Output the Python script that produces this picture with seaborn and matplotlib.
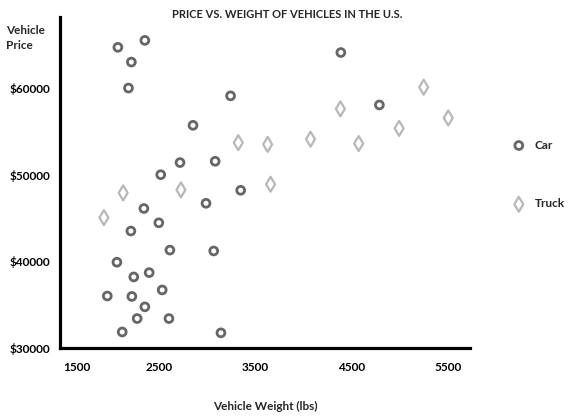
"""Price vs. weight scatter of vehicles in the U.S."""

import matplotlib

matplotlib.use("Agg")
import matplotlib.pyplot as plt
import seaborn as sns

# car data (weight in lbs, price in $)
car_weight = [2070, 2350, 2210, 2180, 3240, 2850, 2715, 3080, 2515, 3345,
              2985, 2340, 2495, 2205, 2610, 3065, 2060, 2235, 2395, 1960,
              2215, 2530, 2350, 2270, 2600, 2115, 3140, 4385, 4785]
car_price = [64700, 65500, 63000, 60000, 59100, 55700, 51400, 51550, 50000, 48200,
             46700, 46100, 44450, 43500, 41300, 41200, 39900, 38200, 38700, 36000,
             35950, 36700, 34750, 33400, 33400, 31850, 31750, 64100, 58050]

# truck data
truck_weight = [3320, 3625, 3655, 2125, 2725, 1925, 5245, 4380, 5500, 4990, 4070, 4570]
truck_price = [53700, 53500, 48900, 47900, 48250, 45050, 60100, 57600, 56550, 55350,
               54100, 53600]

x_ticks = [1500, 2500, 3500, 4500, 5500]
y_ticks = [30000, 40000, 50000, 60000]

sns.set_style("white")
plt.rcParams["font.family"] = ["Lato", "DejaVu Sans"]
plt.rcParams["font.weight"] = "bold"

fig = plt.figure(figsize=(5.76, 4.18), dpi=100)
W, H = 576, 418
ax = fig.add_axes([60 / W, (H - 348) / H, (470 - 60) / W, (348 - 17) / H])

sns.scatterplot(x=car_weight, y=car_price, ax=ax, marker="o", s=32,
                color="#666666", facecolor="none", edgecolor="#666666",
                linewidth=2.0, label="Car")
sns.scatterplot(x=truck_weight, y=truck_price, ax=ax, marker="d", s=58,
                color="#b8b8b8", facecolor="none", edgecolor="#b8b8b8",
                linewidth=1.6, label="Truck")

ax.set_xlim(1469, 5726)
ax.set_ylim(30000, 68200)

ax.set_xticks(x_ticks)
ax.set_xticklabels([str(t) for t in x_ticks], fontsize=8.5, fontweight="bold")
ax.get_xticklabels()[0].set_horizontalalignment("left")
ax.set_yticks(y_ticks)
ax.set_yticklabels([f"${t}" for t in y_ticks], fontsize=8.5, fontweight="bold")

ax.tick_params(axis="y", direction="in", length=12, width=1.8, pad=7, colors="black")
ax.tick_params(axis="x", direction="in", length=6, width=1.8, pad=10, colors="black")
ax.xaxis.get_major_ticks()[0].tick1line.set_visible(False)
ax.yaxis.get_major_ticks()[0].tick1line.set_visible(False)

sns.despine(ax=ax)
for side in ("left", "bottom"):
    ax.spines[side].set_linewidth(2.3)
    ax.spines[side].set_color("black")

ax.set_xlabel("Vehicle Weight (lbs)", fontsize=8.5, fontweight="bold", labelpad=20)
ax.set_ylabel("")
fig.text(6 / W, 1 - 38 / H, "Vehicle\nPrice", fontsize=8.5, fontweight="bold",
         ha="left", va="center", linespacing=1.5)
fig.text(287 / W, 1 - 15 / H, "PRICE VS. WEIGHT OF VEHICLES IN THE U.S.",
         fontsize=8, fontweight="bold", ha="center", va="center")

ax.legend(loc="center left", bbox_to_anchor=(507 / W, 1 - 174.5 / H),
          bbox_transform=fig.transFigure, frameon=False, fontsize=8.5,
          labelspacing=4.05, handletextpad=0.37, borderaxespad=0,
          borderpad=0)

fig.savefig("out.png", dpi=100)
